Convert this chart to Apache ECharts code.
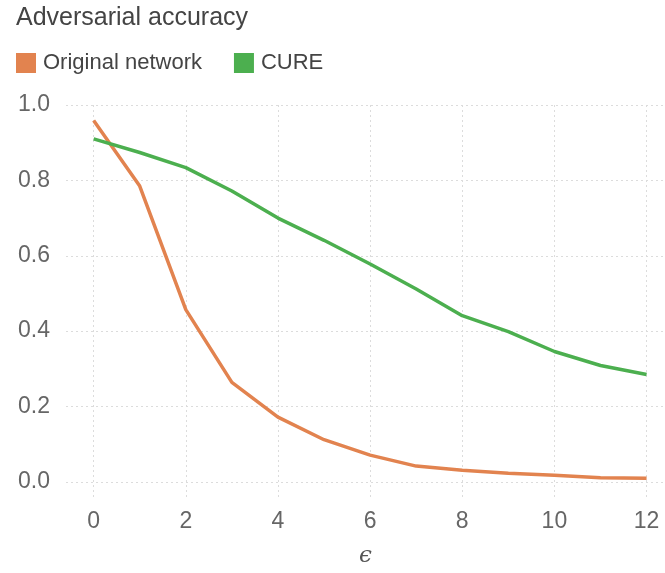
<!DOCTYPE html>
<html>
<head>
<meta charset="utf-8">
<script src="https://cdn.jsdelivr.net/npm/echarts@6/dist/echarts.min.js"></script>
<style>
  html, body { margin: 0; padding: 0; background: #fff; }
  #chart { width: 665px; height: 573px; }
</style>
</head>
<body>
<div id="chart"></div>
<script>
const epsilons = [0, 1, 2, 3, 4, 5, 6, 7, 8, 9, 10, 11, 12]
const originalNetwork = [0.959, 0.785, 0.457, 0.264, 0.172, 0.112, 0.071, 0.042, 0.031, 0.023, 0.018, 0.011, 0.010]
const cure = [0.910, 0.874, 0.834, 0.772, 0.700, 0.641, 0.578, 0.512, 0.441, 0.399, 0.346, 0.309, 0.285]
const xTicks = [0, 2, 4, 6, 8, 10, 12]
const yTicks = [0, 0.2, 0.4, 0.6, 0.8, 1.0]

const font = '"Helvetica Neue", Helvetica, "Liberation Sans", Arial, sans-serif'
const gridLine = { show: true, lineStyle: { color: '#dcdcdc', type: [2, 3], width: 1 } }

const chart = echarts.init(document.getElementById('chart'))

chart.setOption({
  animation: false,
  textStyle: { fontFamily: font },
  title: {
    text: 'Adversarial accuracy',
    left: 16,
    top: 6,
    padding: 0,
    textStyle: { fontFamily: font, fontSize: 25, fontWeight: 'normal', color: '#444' }
  },
  legend: {
    left: 16,
    top: 52,
    padding: 0,
    icon: 'rect',
    itemWidth: 20,
    itemHeight: 20,
    itemGap: 32,
    textStyle: { fontFamily: font, fontSize: 22, color: '#444', padding: [0, 0, 0, 2] },
    data: ['Original network', 'CURE']
  },
  grid: { left: 66, right: 0, top: 105, bottom: 75, containLabel: false },
  xAxis: {
    type: 'value',
    min: -0.6,
    max: 12.4,
    name: 'ϵ',
    nameLocation: 'middle',
    nameGap: 48,
    nameTextStyle: { fontFamily: '"DejaVu Serif", serif', fontSize: 23, fontStyle: 'italic', color: '#555' },
    axisLine: { show: false },
    axisTick: { show: false, customValues: xTicks },
    axisLabel: { customValues: xTicks, fontSize: 23, color: '#666', margin: 13, fontFamily: font },
    splitLine: gridLine
  },
  yAxis: {
    type: 'value',
    min: -0.04,
    max: 1.0,
    axisLine: { show: false },
    axisTick: { show: false, customValues: yTicks },
    axisLabel: {
      customValues: yTicks,
      fontSize: 23,
      color: '#666',
      margin: 16,
      fontFamily: font,
      formatter: (v) => v.toFixed(1)
    },
    splitLine: gridLine
  },
  series: [
    {
      name: 'Original network',
      type: 'line',
      data: epsilons.map((e, i) => [e, originalNetwork[i]]),
      symbol: 'none',
      color: '#E2834F',
      lineStyle: { width: 3.5 }
    },
    {
      name: 'CURE',
      type: 'line',
      data: epsilons.map((e, i) => [e, cure[i]]),
      symbol: 'none',
      color: '#4CAF4F',
      lineStyle: { width: 3.5 }
    }
  ]
})
</script>
</body>
</html>
